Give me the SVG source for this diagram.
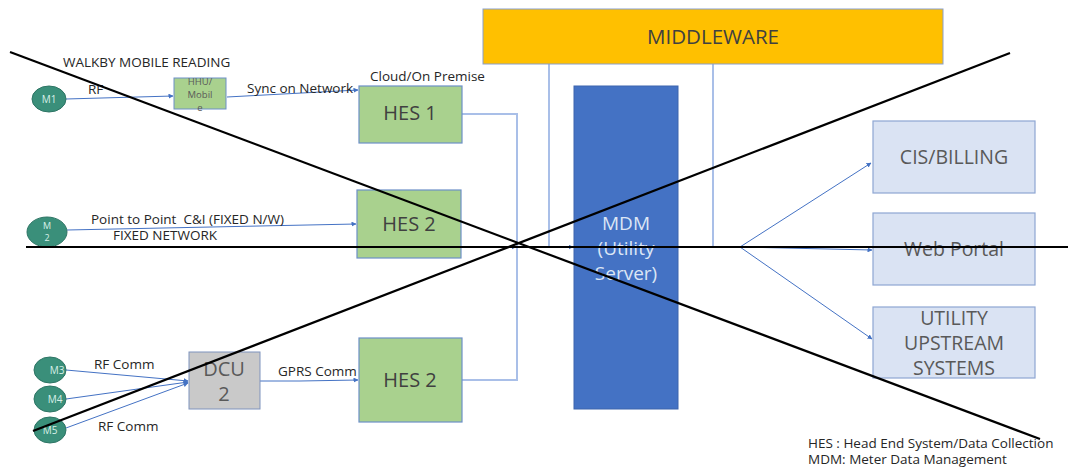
<svg xmlns="http://www.w3.org/2000/svg" width="1068" height="467" viewBox="0 0 1068 467">
<defs>
<marker id="ah" viewBox="0 0 10 10" refX="9" refY="5" markerWidth="5" markerHeight="5" orient="auto"><path d="M0,0 L10,5 L0,10 z" fill="#4472c4"/></marker>
<style>
text{font-family:"Open Sans","Liberation Sans",sans-serif}
.meter{fill:#3a8f7a;stroke:#2e7565;stroke-width:1}
.mt{fill:#d8efe8;font-size:10px;text-anchor:middle}
.hes{fill:#a9d18e;stroke:#6d8fc7;stroke-width:1.2}
.ht{fill:#404040;font-size:20px;text-anchor:middle}
.rb{fill:#dae3f3;stroke:#8ea6d3;stroke-width:1.2}
.rt{fill:#595959;font-size:19.5px;text-anchor:middle}
.lbl{fill:#262626;font-size:13.5px}
.c{fill:none;stroke:#4472c4;stroke-width:1}
.bus{fill:none;stroke:#a9bfe8;stroke-width:2}
.x{stroke:#000;stroke-width:2.2;fill:none}
.mdt{fill:#dce6f5;font-size:19px;text-anchor:middle}
</style>
</defs>
<rect width="1068" height="467" fill="#fff"/>

<g id="connectors">
<path class="c" d="M66,99 L173,96" marker-end="url(#ah)"/>
<path class="c" d="M227,97 L358,90" marker-end="url(#ah)"/>
<path class="c" d="M67,230 L356,224" marker-end="url(#ah)"/>
<path class="c" d="M66,370 L188,381" marker-end="url(#ah)"/>
<path class="c" d="M66,399 L188,382" marker-end="url(#ah)"/>
<path class="c" d="M66,428 L188,383" marker-end="url(#ah)"/>
<path class="c" d="M260,381 L300,381 L358,380" marker-end="url(#ah)"/>
<path class="bus" d="M462,114 L517,114 L517,380 L462,380"/>
<path class="c" d="M461,247 L516,247" marker-end="url(#ah)"/>
<path class="c" d="M517,247 L573,247" marker-end="url(#ah)"/>
<path class="bus" d="M549,64 L549,247"/>
<path class="bus" d="M713,64 L713,247"/>
<path class="c" d="M678,247 L740,247"/>
<path class="c" d="M740,247 L871,163" marker-end="url(#ah)"/>
<path class="c" d="M740,247 L872,250" marker-end="url(#ah)"/>
<path class="c" d="M740,247 L872,339" marker-end="url(#ah)"/>
</g>

<g id="middleware">
<rect x="483" y="9" width="460" height="55" fill="#ffc000" stroke="#8a9fcc" stroke-width="1"/>
<text x="713" y="44" style="font-size:20.5px;fill:#404040;text-anchor:middle">MIDDLEWARE</text>
</g>

<g id="mdm">
<rect x="574" y="86" width="104" height="323" fill="#4472c4" stroke="#3d65ad" stroke-width="1"/>
<text class="mdt" x="626" y="230">MDM</text>
<text class="mdt" x="626" y="255">(Utility</text>
<text class="mdt" x="626" y="280">Server)</text>
</g>

<g id="m1"><ellipse class="meter" cx="49" cy="99" rx="17" ry="13"/><text class="mt" x="49" y="103">M1</text></g>
<g id="m2"><ellipse class="meter" cx="47" cy="232" rx="20" ry="15"/><text class="mt" x="47" y="229" style="font-size:9px">M</text><text class="mt" x="47" y="241" style="font-size:9px">2</text></g>
<g id="m3"><ellipse class="meter" cx="50" cy="370" rx="16" ry="13"/><text class="mt" x="57" y="374">M3</text></g>
<g id="m4"><ellipse class="meter" cx="50" cy="399" rx="16" ry="13"/><text class="mt" x="55" y="403">M4</text></g>
<g id="m5"><ellipse class="meter" cx="50" cy="430" rx="16" ry="13"/><text class="mt" x="50" y="434">M5</text></g>

<g id="hhu">
<rect x="174" y="78" width="52" height="31" fill="#a9d18e" stroke="#6d8fc7" stroke-width="1"/>
<text x="200" y="85" style="fill:#595959;font-size:9.5px;text-anchor:middle">HHU/</text>
<text x="200" y="98" style="fill:#595959;font-size:9.5px;text-anchor:middle">Mobil</text>
<text x="200" y="111" style="fill:#595959;font-size:9.5px;text-anchor:middle">e</text>
</g>

<g id="hes1"><rect class="hes" x="359" y="86" width="103" height="57"/><text class="ht" x="410" y="120">HES 1</text></g>
<g id="hes2a"><rect class="hes" x="357" y="190" width="104" height="68"/><text class="ht" x="409" y="231">HES 2</text></g>
<g id="hes2b"><rect class="hes" x="359" y="338" width="103" height="84"/><text class="ht" x="410" y="387">HES 2</text></g>

<g id="dcu">
<rect x="189" y="352" width="71" height="57" fill="#c9c9c9" stroke="#7f93bd" stroke-width="1"/>
<text x="224" y="376" style="fill:#595959;font-size:20px;text-anchor:middle">DCU</text>
<text x="224" y="401" style="fill:#595959;font-size:20px;text-anchor:middle">2</text>
</g>

<g id="cis"><rect class="rb" x="873" y="121" width="162" height="72"/><text class="rt" x="954" y="164">CIS/BILLING</text></g>
<g id="web"><rect class="rb" x="873" y="213" width="162" height="72"/><text class="rt" x="954" y="256">Web Portal</text></g>
<g id="ups"><rect class="rb" x="873" y="307" width="162" height="71"/><text class="rt" x="954" y="325">UTILITY</text><text class="rt" x="954" y="350">UPSTREAM</text><text class="rt" x="954" y="375">SYSTEMS</text></g>

<g id="labels">
<text class="lbl" x="63" y="67">WALKBY MOBILE READING</text>
<text class="lbl" x="88" y="94">RF</text>
<text class="lbl" x="247" y="93">Sync on Network</text>
<text class="lbl" x="370" y="81">Cloud/On Premise</text>
<text class="lbl" x="91" y="224">Point to Point&#160; C&amp;I (FIXED N/W)</text>
<text class="lbl" x="113" y="240">FIXED NETWORK</text>
<text class="lbl" x="94" y="369">RF Comm</text>
<text class="lbl" x="98" y="431">RF Comm</text>
<text class="lbl" x="278" y="376">GPRS Comm</text>
<text class="lbl" x="808" y="448">HES : Head End System/Data Collection</text>
<text class="lbl" x="808" y="464">MDM: Meter Data Management</text>
</g>

<g id="crossout">
<line class="x" x1="10" y1="52" x2="1040" y2="439"/>
<line class="x" x1="33" y1="431" x2="1010" y2="53"/>
<line class="x" x1="26" y1="247" x2="1068" y2="247"/>
</g>
</svg>
